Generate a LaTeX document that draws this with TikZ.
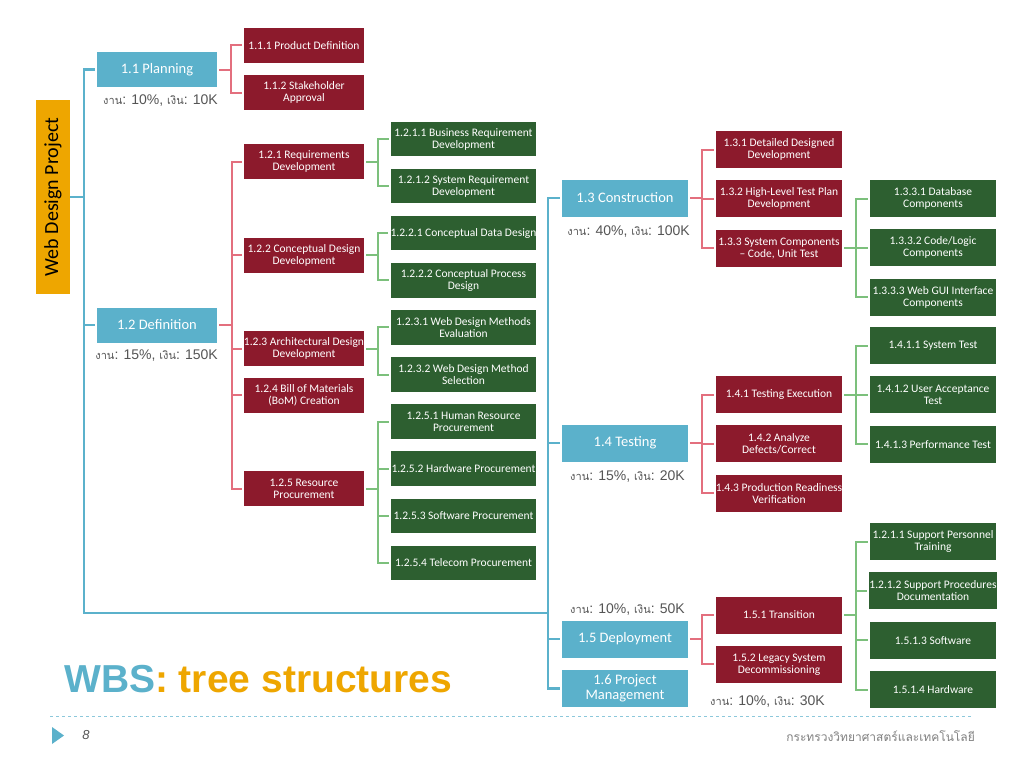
\documentclass[tikz,border=0pt]{standalone}
\usepackage{fontspec}
\setmainfont{Carlito}
\newfontfamily\arial{Liberation Sans}
\newfontfamily\thai[Script=Thai]{Loma}
\usepackage{tikz}
\usetikzlibrary{positioning}
\usepackage{xcolor}
\definecolor{wbsblue}{HTML}{5BB1CB}
\definecolor{wbsorange}{HTML}{EEA600}
\definecolor{wbsred}{HTML}{8C1A2C}
\definecolor{wbsredln}{HTML}{E36F7E}
\definecolor{wbsgreen}{HTML}{2D5F30}
\definecolor{wbsgrnln}{HTML}{7CC07C}
\definecolor{wbsgray}{HTML}{555555}

\begin{document}
\begin{tikzpicture}[x=1pt,y=-1pt,node distance=12pt,every node/.style={font=\fontsize{11.5}{12}\selectfont}]
  \tikzset{box/.style={inner sep=0pt,align=center,text=white},
           bbox/.style={box,fill=wbsblue,minimum width=120pt,minimum height=35pt,font=\fontsize{14.5}{15}\selectfont},
           rbox/.style={box,fill=wbsred,minimum width=120pt,minimum height=35pt},
           gbox/.style={box,fill=wbsgreen,minimum width=145pt,minimum height=34.5pt},
           wide/.style={minimum width=126pt,minimum height=37pt},
           bln/.style={wbsblue,line width=2.4pt},
           rln/.style={wbsredln,line width=2pt,shorten <=2pt,shorten >=2pt},
           gln/.style={wbsgrnln,line width=2pt,shorten <=2pt,shorten >=2pt},
           lbl/.style={font=\arial\fontsize{14}{15}\selectfont,text=wbsgray,inner sep=0pt}}
  \fill[white] (0,0) rectangle (1024,768);
  \useasboundingbox (0,0) rectangle (1024,768);

  % project and first level
  \node[box,fill=wbsorange,text=black,minimum width=34pt,minimum height=194pt] (root) at (53,197)
    {\rotatebox{90}{\fontsize{20}{21}\selectfont Web Design Project}};
  \node[bbox] (p11) at (157,69.5) {1.1 Planning};
  \node[bbox] (p12) at (157,325) {1.2 Definition};
  \node[bbox,wide] (p13) at (625,198) {1.3 Construction};
  \node[bbox,wide] (p14) at (625,443) {1.4 Testing};
  \node[bbox,wide] (p15) at (625,639) {1.5 Deployment};
  \node[bbox,wide] (p16) at (625,688.5) {1.6 Project\\Management};
  \coordinate (jn) at (548,613);

  % budget notes
  \node[lbl,anchor=east] (b11) at (218,101) {{\thai\fontsize{11}{12}\selectfont งาน}: 10\%, {\thai\fontsize{11}{12}\selectfont เงิน}: 10K};
  \node[lbl,anchor=east] (b12) at (218,356) {{\thai\fontsize{11}{12}\selectfont งาน}: 15\%, {\thai\fontsize{11}{12}\selectfont เงิน}: 150K};
  \node[lbl,anchor=east] (b13) at (690,232) {{\thai\fontsize{11}{12}\selectfont งาน}: 40\%, {\thai\fontsize{11}{12}\selectfont เงิน}: 100K};
  \node[lbl,anchor=east] (b14) at (685,477) {{\thai\fontsize{11}{12}\selectfont งาน}: 15\%, {\thai\fontsize{11}{12}\selectfont เงิน}: 20K};
  \node[lbl,anchor=east] (b15) at (685,609) {{\thai\fontsize{11}{12}\selectfont งาน}: 10\%, {\thai\fontsize{11}{12}\selectfont เงิน}: 50K};
  \node[lbl,anchor=east] (b16) at (825,701) {{\thai\fontsize{11}{12}\selectfont งาน}: 10\%, {\thai\fontsize{11}{12}\selectfont เงิน}: 30K};

  % 1.1 and 1.2
  \node[rbox] (p111) at (304,45.5) {1.1.1 Product Definition};
  \node[rbox,below=of p111] (p112) {1.1.2 Stakeholder\\Approval};
  \node[rbox] (p121) at (304,161.5) {1.2.1 Requirements\\Development};
  \node[rbox] (p122) at (304,255) {1.2.2 Conceptual Design\\Development};
  \node[rbox] (p123) at (304,348.5) {1.2.3 Architectural Design\\Development};
  \node[rbox] (p124) at (304,395) {1.2.4 Bill of Materials\\(BoM) Creation};
  \node[rbox] (p125) at (304,488.5) {1.2.5 Resource\\Procurement};
  \node[gbox] (g1211) at (463.5,139) {1.2.1.1 Business Requirement\\Development};
  \node[gbox,below=12.2pt of g1211] (g1212) {1.2.1.2 System Requirement\\Development};
  \node[gbox,below=12.2pt of g1212] (g1221) {1.2.2.1 Conceptual Data Design};
  \node[gbox,below=12.2pt of g1221] (g1222) {1.2.2.2 Conceptual Process\\Design};
  \node[gbox,below=12.2pt of g1222] (g1231) {1.2.3.1 Web Design Methods\\Evaluation};
  \node[gbox,below=12.2pt of g1231] (g1232) {1.2.3.2 Web Design Method\\Selection};
  \node[gbox,below=12.2pt of g1232] (g1251) {1.2.5.1 Human Resource\\Procurement};
  \node[gbox,below=12.2pt of g1251] (g1252) {1.2.5.2 Hardware Procurement};
  \node[gbox,below=12.2pt of g1252] (g1253) {1.2.5.3 Software Procurement};
  \node[gbox,below=12.2pt of g1253] (g1254) {1.2.5.4 Telecom Procurement};

  % 1.3 to 1.5
  \node[rbox,wide] (p131) at (779,149.5) {1.3.1 Detailed Designed\\Development};
  \node[rbox,wide,below=of p131] (p132) {1.3.2 High-Level Test Plan\\Development};
  \node[rbox,wide,below=of p132] (p133) {1.3.3 System Components\\-- Code, Unit Test};
  \node[gbox,wide] (g1331) at (933,198.5) {1.3.3.1 Database\\Components};
  \node[gbox,wide,below=of g1331] (g1332) {1.3.3.2 Code/Logic\\Components};
  \node[gbox,wide,below=of g1332] (g1333) {1.3.3.3 Web GUI Interface\\Components};
  \node[rbox,wide] (p141) at (779,394.5) {1.4.1 Testing Execution};
  \node[rbox,wide,below=of p141] (p142) {1.4.2 Analyze\\Defects/Correct};
  \node[rbox,wide,below=of p142] (p143) {1.4.3 Production Readiness\\Verification};
  \node[gbox,wide] (g1411) at (933,345.5) {1.4.1.1 System Test};
  \node[gbox,wide,below=of g1411] (g1412) {1.4.1.2 User Acceptance\\Test};
  \node[gbox,wide,below=of g1412] (g1413) {1.4.1.3 Performance Test};
  \node[rbox,wide] (p151) at (779,615) {1.5.1 Transition};
  \node[rbox,wide,below=of p151] (p152) {1.5.2 Legacy System\\Decommissioning};
  \node[gbox,wide] (g1511) at (933,541.5) {1.2.1.1 Support Personnel\\Training};
  \node[gbox,wide,below=of g1511] (g1512) {1.2.1.2 Support Procedures\\Documentation};
  \node[gbox,wide,below=of g1512] (g1513) {1.5.1.3 Software};
  \node[gbox,wide,below=of g1513] (g1514) {1.5.1.4 Hardware};

  % brackets
  \foreach \c in {p11,p12} \draw[bln,shorten >=2pt] (root.east) -- ++(13.5,0) |- (\c.west);
  \draw[bln] (root.east) -- ++(13.5,0) |- (jn);
  \foreach \c in {p13,p14,p15,p16} \draw[bln,shorten >=2pt] (jn) |- (\c.west);
  \foreach \c in {p111,p112} \draw[rln] (p11.east) -- ++(13.5,0) |- (\c.west);
  \foreach \c in {p121,p122,p123,p124,p125} \draw[rln] (p12.east) -- ++(14.5,0) |- (\c.west);
  \foreach \c in {p131,p132,p133} \draw[rln] (p13.east) -- ++(14,0) |- (\c.west);
  \foreach \c in {p141,p142,p143} \draw[rln] (p14.east) -- ++(14,0) |- (\c.west);
  \foreach \c in {p151,p152} \draw[rln] (p15.east) -- ++(14,0) |- (\c.west);
  \foreach \c in {g1211,g1212} \draw[gln] (p121.east) -- ++(13.5,0) |- (\c.west);
  \foreach \c in {g1221,g1222} \draw[gln] (p122.east) -- ++(13.5,0) |- (\c.west);
  \foreach \c in {g1231,g1232} \draw[gln] (p123.east) -- ++(13.5,0) |- (\c.west);
  \foreach \c in {g1251,g1252,g1253,g1254} \draw[gln] (p125.east) -- ++(13.5,0) |- (\c.west);
  \foreach \c in {g1331,g1332,g1333} \draw[gln] (p133.east) -- ++(14,0) |- (\c.west);
  \foreach \c in {g1411,g1412,g1413} \draw[gln] (p141.east) -- ++(14,0) |- (\c.west);
  \foreach \c in {g1511,g1512,g1513,g1514} \draw[gln] (p151.east) -- ++(14,0) |- (\c.west);

  % title and footer
  \node[anchor=base west,inner sep=0pt,font=\arial\bfseries\fontsize{39}{44}\selectfont] (ttl) at (64,692)
    {\textcolor{wbsblue}{WBS}\textcolor{wbsorange}{: tree structures}};
  \draw[wbsblue!70,dashed,line width=0.8pt] (50,716) -- (973,716);
  \fill[wbsblue] (52,727) -- (64,735.5) -- (52,744) -- cycle;
  \node[font=\arial\itshape\fontsize{13}{14}\selectfont,text=wbsgray] (pg) at (86,735.5) {8};
  \node[anchor=east,inner sep=0pt,font=\thai\fontsize{12}{14}\selectfont,text=gray] (ft) at (975,736)
    {กระทรวงวิทยาศาสตร์และเทคโนโลยี};
\end{tikzpicture}
\end{document}
